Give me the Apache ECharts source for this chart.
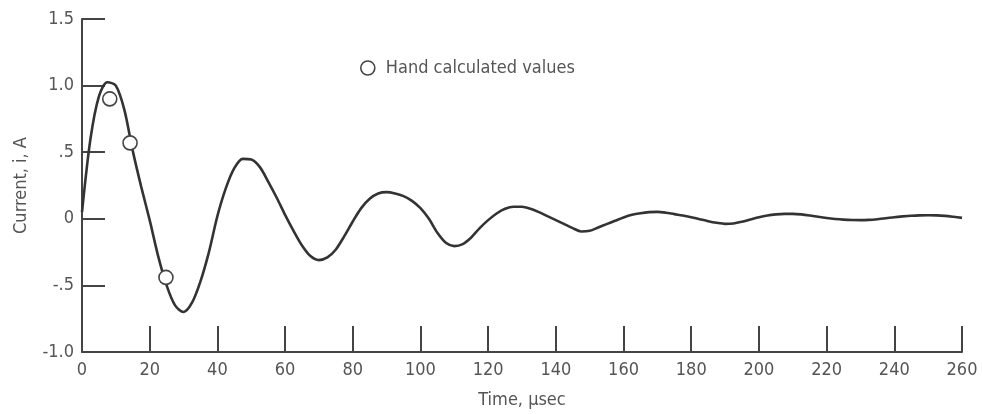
<!DOCTYPE html>
<html>
<head>
<meta charset="utf-8">
<script src="https://cdn.jsdelivr.net/npm/echarts@6/dist/echarts.min.js"></script>
<style>
html,body{margin:0;padding:0;background:#fff;}
#c{width:982px;height:414px;}
</style>
</head>
<body>
<div id="c"></div>
<script>
// Curve: time in µsec (every 2.5 µsec) and current in A
var curveTime = [0, 2.5, 5, 7.5, 10, 12.5, 15, 17.5, 20, 22.5, 25, 27.5, 30, 32.5, 35, 37.5, 40, 42.5, 45, 47.5, 50, 52.5, 55, 57.5, 60, 62.5, 65, 67.5, 70, 72.5, 75, 77.5, 80, 82.5, 85, 87.5, 90, 92.5, 95, 97.5, 100, 102.5, 105, 107.5, 110, 112.5, 115, 117.5, 120, 122.5, 125, 127.5, 130, 132.5, 135, 137.5, 140, 142.5, 145, 147.5, 150, 152.5, 155, 157.5, 160, 162.5, 165, 167.5, 170, 172.5, 175, 177.5, 180, 182.5, 185, 187.5, 190, 192.5, 195, 197.5, 200, 202.5, 205, 207.5, 210, 212.5, 215, 217.5, 220, 222.5, 225, 227.5, 230, 232.5, 235, 237.5, 240, 242.5, 245, 247.5, 250, 252.5, 255, 257.5, 260];
var curveCurrent = [0.05, 0.60, 0.92, 1.025, 1.0, 0.82, 0.51, 0.24, -0.01, -0.28, -0.50, -0.65, -0.70, -0.63, -0.47, -0.25, 0.02, 0.23, 0.38, 0.45, 0.445, 0.39, 0.28, 0.16, 0.03, -0.09, -0.20, -0.28, -0.31, -0.29, -0.23, -0.13, -0.02, 0.08, 0.15, 0.19, 0.20, 0.19, 0.17, 0.135, 0.08, 0.0, -0.105, -0.18, -0.205, -0.19, -0.14, -0.07, -0.01, 0.04, 0.075, 0.09, 0.09, 0.075, 0.05, 0.02, -0.01, -0.04, -0.07, -0.095, -0.09, -0.065, -0.04, -0.015, 0.01, 0.03, 0.042, 0.05, 0.052, 0.046, 0.035, 0.025, 0.012, -0.003, -0.018, -0.03, -0.038, -0.035, -0.022, -0.005, 0.012, 0.025, 0.033, 0.037, 0.037, 0.033, 0.025, 0.015, 0.006, -0.001, -0.006, -0.009, -0.01, -0.008, -0.003, 0.004, 0.012, 0.018, 0.023, 0.026, 0.027, 0.026, 0.022, 0.015, 0.007];
// Hand calculated values
var handTime = [8.2, 14.2, 24.8];
var handCurrent = [0.90, 0.57, -0.44];
// Tick labels
var yTickLabels = {"1.5": "1.5", "1": "1.0", "0.5": ".5", "0": "0", "-0.5": "-.5", "-1": "-1.0"};
var legendLabel = "Hand calculated values";
var xAxisName = "Time, \u00b5sec";
var yAxisName = "Current, i, A";

var FONT = "'DejaVu Sans Condensed', 'Liberation Sans Narrow', 'DejaVu Sans', sans-serif";
var TXT = '#555';
var AX = '#444';

var chart = echarts.init(document.getElementById('c'));
chart.setOption({
  animation: false,
  backgroundColor: '#fff',
  grid: {left: 82, right: 20, top: 19, bottom: 55, containLabel: false},
  legend: {
    left: 355, top: 54,
    data: [{name: legendLabel, icon: 'circle'}],
    itemWidth: 26, itemHeight: 14, itemGap: 9,
    itemStyle: {color: '#fff', borderColor: AX, borderWidth: 1.6},
    textStyle: {fontFamily: FONT, fontSize: 18, color: TXT}
  },
  xAxis: {
    type: 'value', min: 0, max: 260, interval: 20,
    name: xAxisName, nameLocation: 'middle', nameGap: 39,
    nameTextStyle: {fontFamily: FONT, fontSize: 18, color: TXT},
    axisLine: {show: true, onZero: false, lineStyle: {color: AX, width: 2}},
    axisTick: {show: true, inside: true, length: 26, lineStyle: {color: AX, width: 2}},
    axisLabel: {fontFamily: FONT, fontSize: 18, color: TXT, margin: 9},
    splitLine: {show: false}
  },
  yAxis: {
    type: 'value', min: -1, max: 1.5, interval: 0.5,
    name: yAxisName, nameLocation: 'middle', nameGap: 52,
    nameTextStyle: {fontFamily: FONT, fontSize: 18, color: TXT},
    axisLine: {show: true, onZero: false, lineStyle: {color: AX, width: 2}},
    axisTick: {show: true, inside: true, length: 23, lineStyle: {color: AX, width: 2}},
    axisLabel: {fontFamily: FONT, fontSize: 18, color: TXT, margin: 8,
      formatter: function (v) { var k = String(Math.round(v * 10) / 10); return yTickLabels[k] !== undefined ? yTickLabels[k] : k; }},
    splitLine: {show: false}
  },
  series: [
    {
      name: 'curve', type: 'line', smooth: 0.3, showSymbol: false,
      lineStyle: {color: '#333', width: 2.6},
      data: curveTime.map(function (t, i) { return [t, curveCurrent[i]]; }),
      z: 2
    },
    {
      name: legendLabel, type: 'scatter', symbol: 'circle', symbolSize: 14,
      itemStyle: {color: '#fff', borderColor: AX, borderWidth: 1.6, opacity: 1},
      data: handTime.map(function (t, i) { return [t, handCurrent[i]]; }),
      z: 3
    }
  ]
});
</script>
</body>
</html>
